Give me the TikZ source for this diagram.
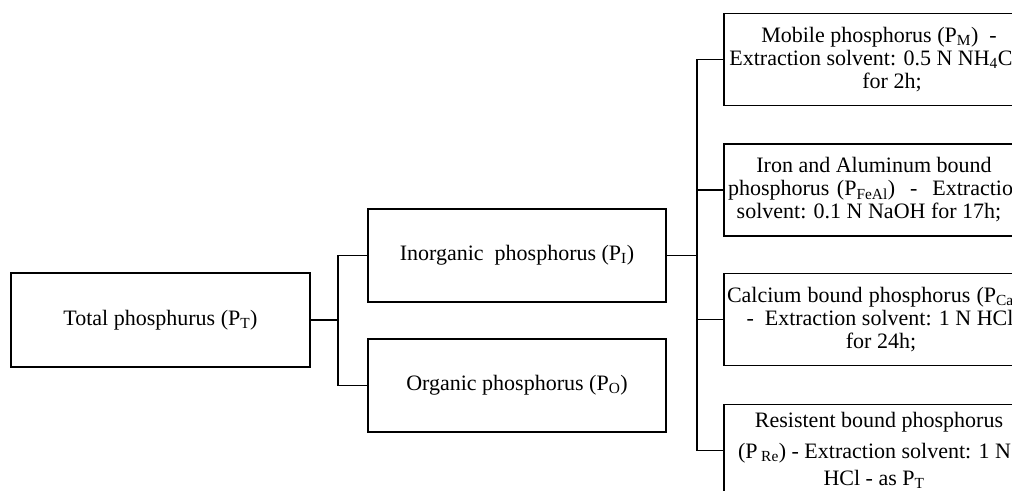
\documentclass[tikz,border=0pt]{standalone}
\usepackage{fontspec}
\setmainfont{Liberation Serif}
% move one centred line sideways, keep its width
\newcommand{\nudge}[2]{\hspace*{#1}#2\hspace*{-#1}}
\begin{document}
\begin{tikzpicture}[x=1pt,y=-1pt,
  box/.style={draw, line width=1.6pt, align=center, inner sep=0pt,
    font=\fontsize{22}{23}\selectfont},
  wide/.style={box, minimum width=298pt, minimum height=93pt},
  fraction/.style={box, minimum width=310pt, minimum height=92pt},
  link/.style={line width=1.6pt}]
\useasboundingbox (0,0) rectangle (1012,490);
\clip (0,0) rectangle (1012,490);

\node[box, minimum width=299pt, minimum height=94pt] (total) at (160.5,320) {Total phosphurus (P\textsubscript{T})};

\node[wide] (inorg) at (517,255.5) {Inorganic\ \ phosphorus (P\textsubscript{I})};
\node[wide] (org) at (517,385.5) {Organic phosphorus (P\textsubscript{O})};

\node[fraction] (mobile) at (879,59.5) {Mobile phosphorus (P\textsubscript{M})\ \ -\\\nudge{-10pt}{Extraction solvent: 0.5 N NH\textsubscript{4}Cl}\\\nudge{13pt}{for 2h;}};
\node[fraction] (feal) at (879,190) {\nudge{-5pt}{Iron and Aluminum bound}\\\nudge{-6pt}{\makebox[296pt][s]{phosphorus (P\textsubscript{FeAl})\ \ -\ \ Extraction}}\\\nudge{-10pt}{solvent: 0.1 N NaOH for 17h;}};
\node[fraction] (calc) at (879,319.5) {\nudge{-5pt}{\makebox[294pt][s]{Calcium bound phosphorus (P\textsubscript{Ca})}}\\\nudge{2pt}{-\ \ Extraction solvent: 1 N HCl}\\\nudge{2pt}{for 24h;}};
\node[fraction] (resist) at (879,450.5) {Resistent bound phosphorus\\[8pt]\nudge{-9pt}{(P\,\textsubscript{Re}) - Extraction solvent: 1 N}\\[4pt]\nudge{-5pt}{HCl - as P\textsubscript{T}}};

\coordinate (split) at (338,320);
\coordinate (trunk) at (697,255.5);

\draw[link] (total.east) -- (split);
\draw[link] (inorg.west) -| (split) |- (org.west);
\draw[link] (inorg.east) -- (trunk);
\draw[link] (mobile.west) -| (trunk) |- (resist.west);
\draw[link] (feal.west) -- (feal.west -| trunk);
\draw[link] (calc.west) -- (calc.west -| trunk);
\end{tikzpicture}
\end{document}
